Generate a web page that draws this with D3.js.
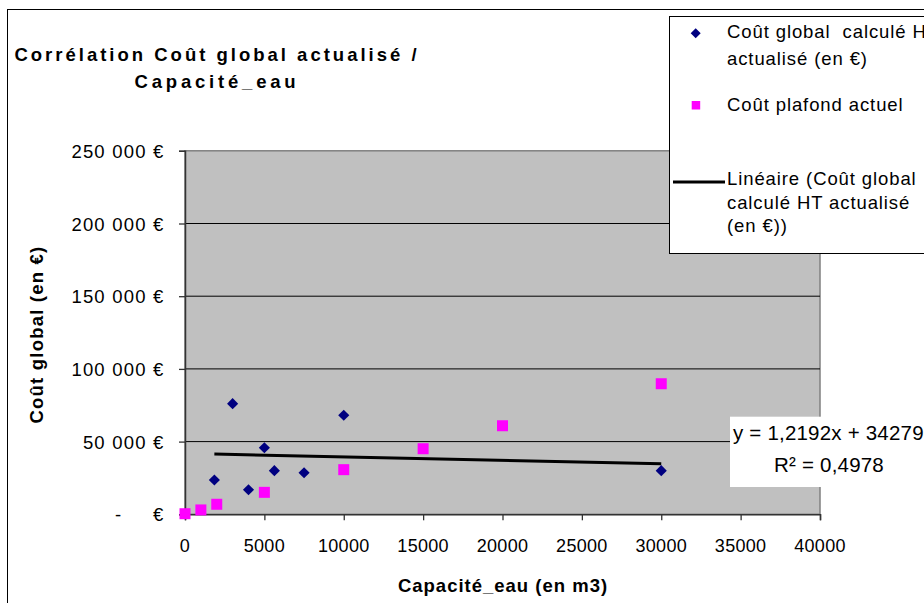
<!DOCTYPE html>
<html><head><meta charset="utf-8">
<script src="https://cdn.jsdelivr.net/npm/d3@7/dist/d3.min.js"></script>
<style>
body{margin:0;background:#fff}
svg{display:block;font-family:"Liberation Sans",Arial,sans-serif}
text{white-space:pre}
</style>
</head><body>
<svg id="c" width="924" height="603"></svg>
<script>
// ---- data ----
const capaciteGlobal = [1850, 3000, 4000, 5000, 5630, 7500, 10000, 30000];
const coutGlobal     = [23600, 76100, 16900, 45800, 30000, 28600, 68100, 30000];
const capacitePlafond = [0, 1000, 2000, 5000, 10000, 15000, 20000, 30000];
const coutPlafond     = [400, 3000, 6900, 15100, 30700, 45100, 60900, 89800];
const xTicks = [0, 5000, 10000, 15000, 20000, 25000, 30000, 35000, 40000];
const yTicks = [0, 50000, 100000, 150000, 200000, 250000];
const yTickLabels = ["-|€", "50 000 €", "100 000 €", "150 000 €", "200 000 €", "250 000 €"];
const titleLines = ["Corrélation Coût global actualisé /", "Capacité_eau"];
const xAxisTitle = "Capacité_eau (en m3)";
const yAxisTitle = "Coût global (en €)";
const legendGlobal = ["Coût global  calculé HT", "actualisé (en €)"];
const legendPlafond = ["Coût plafond actuel"];
const legendTrend = ["Linéaire (Coût global", "calculé HT actualisé", "(en €))"];
const equationLines = ["y = 1,2192x + 34279", "R² = 0,4978"];

// ---- layout ----
const svg = d3.select("#c");
const L = 185, R = 820, T = 150.8, B = 514.3;
const x = d3.scaleLinear().domain([0, 40000]).range([L, R]);
const y = d3.scaleLinear().domain([0, 250000]).range([B, T]);

// outer chart border
svg.append("rect").attr("x", 7.5).attr("y", 9.5).attr("width", 1000).attr("height", 1000)
  .attr("fill", "#fff").attr("stroke", "#000").attr("stroke-width", 1);

// plot area
svg.append("rect").attr("x", L).attr("y", T).attr("width", R - L).attr("height", B - T)
  .attr("fill", "#C0C0C0").attr("stroke", "#808080").attr("stroke-width", 1.5);

// gridlines
svg.append("g").selectAll("line").data(yTicks.filter(d => d > 0 && d < 250000)).join("line")
  .attr("x1", L).attr("x2", R).attr("y1", d => y(d)).attr("y2", d => y(d))
  .attr("stroke", "#000").attr("stroke-width", 1);

// trendline (least squares on coutGlobal)
const mx = d3.mean(capaciteGlobal), my = d3.mean(coutGlobal);
let sxy = 0, sxx = 0;
capaciteGlobal.forEach((v, i) => { sxy += (v - mx) * (coutGlobal[i] - my); sxx += (v - mx) * (v - mx); });
const slope = sxy / sxx, icpt = my - slope * mx;
const ext = d3.extent(capaciteGlobal);
svg.append("line")
  .attr("x1", x(ext[0])).attr("y1", y(icpt + slope * ext[0]))
  .attr("x2", x(ext[1])).attr("y2", y(icpt + slope * ext[1]))
  .attr("stroke", "#000").attr("stroke-width", 3);

// axes
const yAxis = d3.axisLeft(y).tickValues(yTicks).tickSize(6).tickFormat("");
const gy = svg.append("g").attr("transform", `translate(${L},0)`).call(yAxis);
const xAxis = d3.axisBottom(x).tickValues(xTicks).tickSize(6).tickFormat("");
const gx = svg.append("g").attr("transform", `translate(0,${B})`).call(xAxis);
[gx, gy].forEach(g => {
  g.select(".domain").attr("stroke", "#333").attr("stroke-width", 1.5);
  g.selectAll(".tick line").attr("stroke", "#333").attr("stroke-width", 1.3);
});

// y tick labels
const yl = svg.append("g").attr("font-size", 18.5).attr("fill", "#000").attr("letter-spacing", 1.2);
yTicks.forEach((d, i) => {
  const lab = yTickLabels[i];
  if (lab.includes("|")) {
    const [a, b] = lab.split("|");
    yl.append("text").attr("x", 115).attr("y", y(d) + 7).text(a);
    yl.append("text").attr("x", 164.5).attr("y", y(d) + 7).attr("text-anchor", "end").text(b);
  } else {
    yl.append("text").attr("x", 164.5).attr("y", y(d) + 7).attr("text-anchor", "end").text(lab);
  }
});

// x tick labels
svg.append("g").attr("font-size", 18).attr("letter-spacing", 0.3).selectAll("text").data(xTicks).join("text")
  .attr("x", d => x(d)).attr("y", B + 37.4).attr("text-anchor", "middle").text(d => String(d));

// points
const diamond = d3.symbol().type(d3.symbolSquare).size(62);
svg.append("g").selectAll("path").data(capaciteGlobal).join("path")
  .attr("d", diamond)
  .attr("transform", (d, i) => `translate(${x(d)},${y(coutGlobal[i])}) rotate(45)`)
  .attr("fill", "#000080");
svg.append("g").selectAll("rect").data(capacitePlafond).join("rect")
  .attr("x", d => x(d) - 5.5).attr("y", (d, i) => y(coutPlafond[i]) - 5.5)
  .attr("width", 11).attr("height", 11).attr("fill", "#FF00FF");

// title
const tt = svg.append("g").attr("font-size", 18.5).attr("font-weight", "bold").attr("text-anchor", "middle");
tt.append("text").attr("x", 217).attr("y", 61).attr("letter-spacing", 3).text(titleLines[0]);
tt.append("text").attr("x", 217).attr("y", 88).attr("letter-spacing", 3.8).text(titleLines[1]);

// axis titles
svg.append("text").attr("x", 503).attr("y", 591.5).attr("text-anchor", "middle")
  .attr("font-size", 18.5).attr("font-weight", "bold").attr("letter-spacing", 1).text(xAxisTitle);
svg.append("text").attr("transform", `translate(43,${(T + B) / 2 + 2}) rotate(-90)`).attr("text-anchor", "middle")
  .attr("font-size", 18.5).attr("font-weight", "bold").attr("letter-spacing", 1.2).text(yAxisTitle);

// legend
const lg = svg.append("g");
lg.append("rect").attr("x", 669.5).attr("y", 16.5).attr("width", 400).attr("height", 237)
  .attr("fill", "#fff").attr("stroke", "#000").attr("stroke-width", 1);
lg.append("path").attr("d", d3.symbol().type(d3.symbolSquare).size(50))
  .attr("transform", "translate(695.7,33.3) rotate(45)").attr("fill", "#000080");
lg.append("rect").attr("x", 691.7).attr("y", 101).attr("width", 8.5).attr("height", 8.5).attr("fill", "#FF00FF");
lg.append("line").attr("x1", 673).attr("x2", 725).attr("y1", 182).attr("y2", 182)
  .attr("stroke", "#000").attr("stroke-width", 3);
const lt = lg.append("g").attr("font-size", 18.5).attr("letter-spacing", 0.9);
legendGlobal.forEach((s, i) => lt.append("text").attr("x", 727).attr("y", 38.3 + i * 26.7).text(s));
legendPlafond.forEach((s, i) => lt.append("text").attr("x", 727).attr("y", 110.7 + i * 24).text(s));
legendTrend.forEach((s, i) => lt.append("text").attr("x", 727).attr("y", 185 + i * 23.7).text(s));

// equation label
svg.append("rect").attr("x", 730).attr("y", 416.7).attr("width", 300).attr("height", 70.3).attr("fill", "#fff");
const eq = svg.append("g").attr("font-size", 20.5).attr("letter-spacing", 0.2);
eq.append("text").attr("x", 733).attr("y", 440).text(equationLines[0]);
eq.append("text").attr("x", 829).attr("y", 471.7).attr("text-anchor", "middle").text(equationLines[1]);
</script>
</body></html>
